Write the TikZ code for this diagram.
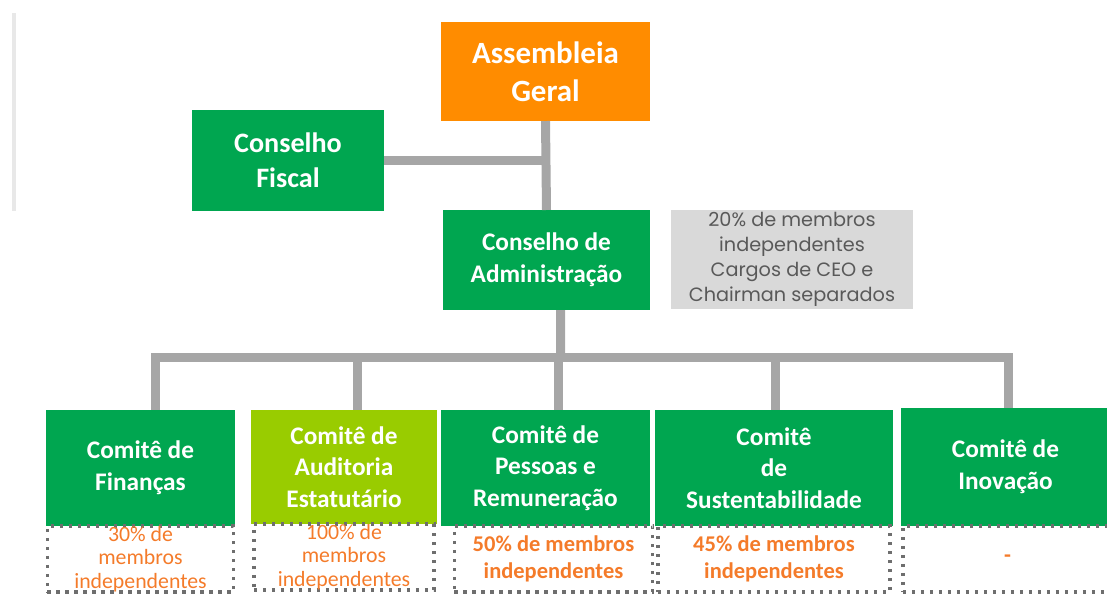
\documentclass[tikz,border=0pt]{standalone}
\usepackage{fontspec}
\setmainfont{Carlito}
\newfontfamily\gothic{Poppins}
\usetikzlibrary{positioning}
\definecolor{laranja}{HTML}{FF8C00}
\definecolor{verde}{HTML}{00A650}
\definecolor{verdeclaro}{HTML}{99CC00}
\definecolor{cinzalinha}{HTML}{A6A6A6}
\definecolor{cinzanota}{HTML}{D9D9D9}
\definecolor{textonota}{HTML}{595959}
\definecolor{laranjatexto}{HTML}{F47B2A}
\definecolor{pontos}{HTML}{6E6E6E}
\definecolor{margem}{HTML}{E8E8E8}

\tikzset{
  caixa/.style={fill=verde, text=white, align=center, inner sep=2pt, outer sep=0pt,
    font=\bfseries\fontsize{18}{22.5}\selectfont},
  ligacao/.style={draw=cinzalinha, line width=6.4pt},
  quadro/.style={draw=pontos, line width=2.2pt, dash pattern=on 2.2pt off 4.2pt,
    text=laranjatexto, align=center, minimum height=1.65cm, inner sep=0pt, outer sep=0pt,
    font=\fontsize{15.5}{16.8}\selectfont},
  quadrob/.style={quadro, font=\bfseries\fontsize{16}{19.2}\selectfont},
}

\begin{document}
\begin{tikzpicture}[x=0.025cm, y=-0.025cm]
        \useasboundingbox (0,0) rectangle (1107,594);
        \clip (0,0) rectangle (1107,594);
        \fill[margem] (12,13) rectangle (16,211);
        % topo
        \node[caixa, fill=laranja, minimum width=5.225cm, minimum height=2.475cm,
              font=\bfseries\fontsize{22}{27}\selectfont] (ag) at (545.5,71.5) {Assembleia\\Geral};
        \node[caixa, minimum width=4.8cm, minimum height=2.525cm,
              font=\bfseries\fontsize{20}{25}\selectfont] (cf) at (288,160.5) {Conselho\\Fiscal};
        \node[caixa, minimum width=5.175cm, minimum height=2.5cm] (ca) at (546.5,260) {Conselho de\\Administração};
        \node[fill=cinzanota, text=textonota, align=center, minimum width=6.05cm, minimum height=2.475cm,
              inner sep=0pt, font=\gothic\fontsize{13.7}{17.8}\selectfont] (nota) at (792,259.5)
              {20\% de membros\\independentes\\Cargos de CEO e\\Chairman separados};
        % comites
        \node[caixa, minimum width=4.725cm, minimum height=2.9cm] (fin) at (140.5,468) {Comitê de\\Finanças};
        \node[caixa, fill=verdeclaro, minimum width=4.65cm, minimum height=2.85cm] (aud) at (344,467) {Comitê de\\Auditoria\\Estatutário};
        \node[caixa, minimum width=5.225cm, minimum height=2.9cm] (pes) at (545.5,468) {Comitê de\\Pessoas e\\Remuneração};
        \node[caixa, minimum width=5.95cm, minimum height=2.9cm] (sus) at (774,468) {Comitê\\de\\Sustentabilidade};
        \node[caixa, minimum width=5.225cm, minimum height=2.95cm] (ino) at (1005.5,467) {Comitê de\\Inovação};
        % quadros pontilhados
        \node[quadro, below=0pt of fin, minimum width=4.65cm] (qfin) {30\% de\\membros\\independentes};
        \node[quadro, below=0pt of aud, minimum width=4.5cm] (qaud) {100\% de\\membros\\independentes};
        \node[quadrob, below=0pt of pes, xshift=0.2cm, minimum width=4.95cm] (qpes) {50\% de membros\\independentes};
        \node[quadrob, below=0pt of sus, minimum width=5.8cm] (qsus) {45\% de membros\\independentes};
        \node[quadrob, below=0pt of ino, xshift=0.05cm, minimum width=5.225cm] (qino) {-};
        % ligacoes
        \draw[ligacao] (ag.south) -- (ca.north);
        \draw[ligacao] (cf.east) -- (cf.east -| ag.south);
        \coordinate (barra) at ([shift={(14,47)}]ca.south);
        \draw[ligacao] ([xshift=0.35cm]ca.south) -- (barra);
        \foreach \c/\dx in {fin/14.5, aud/13, pes/13, sus/1, ino/2.5}
            \draw[ligacao] (barra) -| ([xshift=\dx*0.025cm]\c.north);
\end{tikzpicture}
\end{document}
